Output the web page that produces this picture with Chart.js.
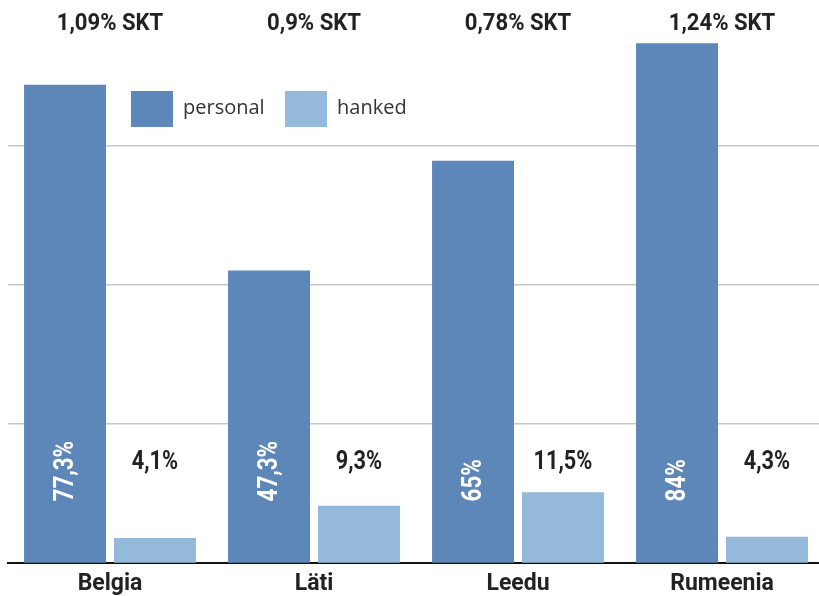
<!DOCTYPE html>
<html>
<head>
<meta charset="utf-8">
<script src="https://cdn.jsdelivr.net/npm/chart.js@4"></script>
<style>
  html, body { margin: 0; padding: 0; background: #ffffff; overflow: hidden; }
  #c { display: block; }
</style>
</head>
<body>
<canvas id="c" width="824" height="605"></canvas>
<script>
const categories = ['Belgia', 'Läti', 'Leedu', 'Rumeenia'];
const personalValues = [77.3, 47.3, 65, 84];
const hankedValues = [4.1, 9.3, 11.5, 4.3];
const gdpLabels = ['1,09% SKT', '0,9% SKT', '0,78% SKT', '1,24% SKT'];
const seriesNames = ['personal', 'hanked'];

const COL_PERSONAL = '#5d87b9';
const COL_HANKED = '#94b9da';
const BOLD = "Roboto, 'DejaVu Sans Condensed', sans-serif";
const fmt = v => String(v).replace('.', ',') + '%';

function narrowText(ctx, text, x, y, sx) {
  ctx.save();
  ctx.translate(x, y);
  ctx.scale(sx, 1);
  ctx.fillText(text, 0, 0);
  ctx.restore();
}

const labelPlugin = {
  id: 'labels',
  afterDatasetsDraw(chart) {
    const ctx = chart.ctx;
    const y = chart.scales.y;
    ctx.save();
    ctx.fillStyle = '#222222';
    ctx.textAlign = 'center';
    ctx.textBaseline = 'middle';
    const m0 = chart.getDatasetMeta(0).data;
    const m1 = chart.getDatasetMeta(1).data;
    // top GDP labels
    ctx.font = 'bold 24px ' + BOLD;
    categories.forEach((c, i) => {
      const cx = chart.scales.x.getPixelForValue(i);
      narrowText(ctx, gdpLabels[i], cx, 24, 0.92);
    });
    // hanked value labels
    ctx.font = 'bold 25px ' + BOLD;
    m1.forEach((bar, i) => {
      narrowText(ctx, fmt(hankedValues[i]), bar.x, y.getPixelForValue(16.3), 0.87);
    });
    // personal value labels (rotated, white)
    ctx.fillStyle = '#ffffff';
    ctx.font = 'bold 27px ' + BOLD;
    m0.forEach((bar, i) => {
      ctx.save();
      ctx.translate(bar.x + 1, y.getPixelForValue(10));
      ctx.rotate(-Math.PI / 2);
      ctx.scale(0.83, 1);
      ctx.textAlign = 'left';
      ctx.textBaseline = 'middle';
      ctx.fillText(fmt(personalValues[i]), 0, 0);
      ctx.restore();
    });
    // legend
    ctx.font = "20px 'Open Sans', 'Liberation Sans', sans-serif";
    ctx.textAlign = 'left';
    ctx.textBaseline = 'middle';
    const items = [[COL_PERSONAL, seriesNames[0], 131], [COL_HANKED, seriesNames[1], 285]];
    items.forEach(([col, name, lx]) => {
      ctx.fillStyle = col;
      ctx.fillRect(lx, 91, 42, 36);
      ctx.fillStyle = '#333333';
      ctx.fillText(name, lx + 52, 108);
    });
    ctx.restore();
  }
};

new Chart(document.getElementById('c'), {
  type: 'bar',
  data: {
    labels: categories,
    datasets: [
      { label: seriesNames[0], data: personalValues, backgroundColor: COL_PERSONAL,
        categoryPercentage: 0.882, barPercentage: 0.911 },
      { label: seriesNames[1], data: hankedValues, backgroundColor: COL_HANKED,
        categoryPercentage: 0.882, barPercentage: 0.911 }
    ]
  },
  options: {
    responsive: false,
    animation: false,
    layout: { padding: { left: 8, right: 0, top: 6, bottom: 0 } },
    plugins: { legend: { display: false }, tooltip: { enabled: false } },
    scales: {
      x: {
        grid: { display: false, drawTicks: false },
        border: { display: true, color: '#111111', width: 2 },
        ticks: { color: '#222222', font: { family: BOLD, size: 23, weight: 'bold' }, padding: 7 }
      },
      y: {
        min: 0, max: 90,
        ticks: { display: false, stepSize: 22.5 },
        border: { display: false },
        grid: {
          drawTicks: false,
          lineWidth: 1.5,
          color: c => (c.tick && (c.tick.value === 0 || c.tick.value === 90)) ? 'rgba(0,0,0,0)' : '#c8c8c8'
        }
      }
    }
  },
  plugins: [labelPlugin]
});
</script>
</body>
</html>
